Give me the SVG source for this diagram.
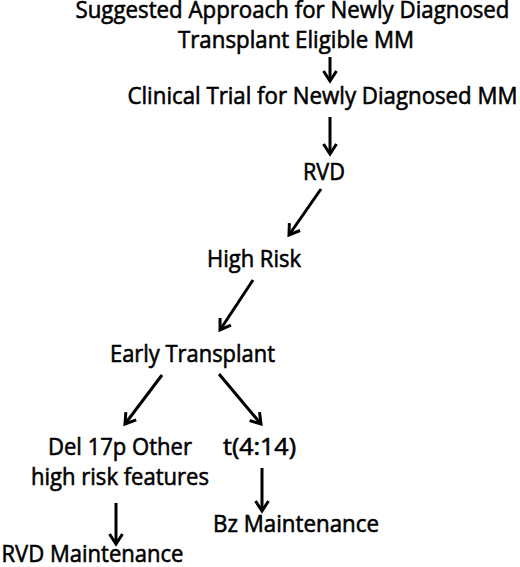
<svg xmlns="http://www.w3.org/2000/svg" width="520" height="567" viewBox="0 0 520 567">
<defs>
<style>
text{font-family:"Open Sans",Lato,"Liberation Sans",sans-serif;font-size:24px;fill:#000;stroke:#000;stroke-width:0.6;text-anchor:middle}
.c{stroke:#000;stroke-width:3;fill:none;marker-end:url(#ah)}
</style>
<marker id="ah" markerUnits="userSpaceOnUse" markerWidth="30" markerHeight="30" refX="0" refY="0" viewBox="-15 -15 30 30" orient="auto" overflow="visible">
<path d="M-10,-6.5 L0,0 L-10,6.5" fill="none" stroke="#000" stroke-width="3" stroke-linejoin="miter"/>
</marker>
</defs>
<rect width="520" height="567" fill="#fff"/>
<g id="title">
<text x="292.5" y="18" textLength="434" lengthAdjust="spacingAndGlyphs">Suggested Approach for Newly Diagnosed</text>
<text x="296" y="48" textLength="236" lengthAdjust="spacingAndGlyphs">Transplant Eligible MM</text>
</g>
<g id="trial"><text x="322.5" y="104" textLength="390" lengthAdjust="spacingAndGlyphs">Clinical Trial for Newly Diagnosed MM</text></g>
<g id="rvd"><text x="324" y="180" textLength="42" lengthAdjust="spacingAndGlyphs">RVD</text></g>
<g id="highrisk"><text x="254" y="267" textLength="94" lengthAdjust="spacingAndGlyphs">High Risk</text></g>
<g id="early"><text x="192.5" y="362" textLength="165" lengthAdjust="spacingAndGlyphs">Early Transplant</text></g>
<g id="del17p">
<text x="120" y="455" textLength="144" lengthAdjust="spacingAndGlyphs">Del 17p Other</text>
<text x="120" y="485" textLength="178" lengthAdjust="spacingAndGlyphs">high risk features</text>
</g>
<g id="t414"><text x="259.5" y="455" textLength="73" lengthAdjust="spacingAndGlyphs">t(4:14)</text></g>
<g id="bz"><text x="296" y="532" textLength="166" lengthAdjust="spacingAndGlyphs">Bz Maintenance</text></g>
<g id="rvdm"><text x="92.5" y="562" textLength="182" lengthAdjust="spacingAndGlyphs">RVD Maintenance</text></g>
<g id="connectors">
<line class="c" x1="330" y1="57" x2="330" y2="81"/>
<line class="c" x1="330" y1="117" x2="330" y2="154"/>
<line class="c" x1="321" y1="189" x2="289" y2="235"/>
<line class="c" x1="253" y1="280" x2="220" y2="330"/>
<line class="c" x1="162" y1="375" x2="125" y2="424"/>
<line class="c" x1="219" y1="374" x2="261" y2="424"/>
<line class="c" x1="116" y1="503" x2="116" y2="544"/>
<line class="c" x1="262" y1="468" x2="262" y2="511"/>
</g>
</svg>
